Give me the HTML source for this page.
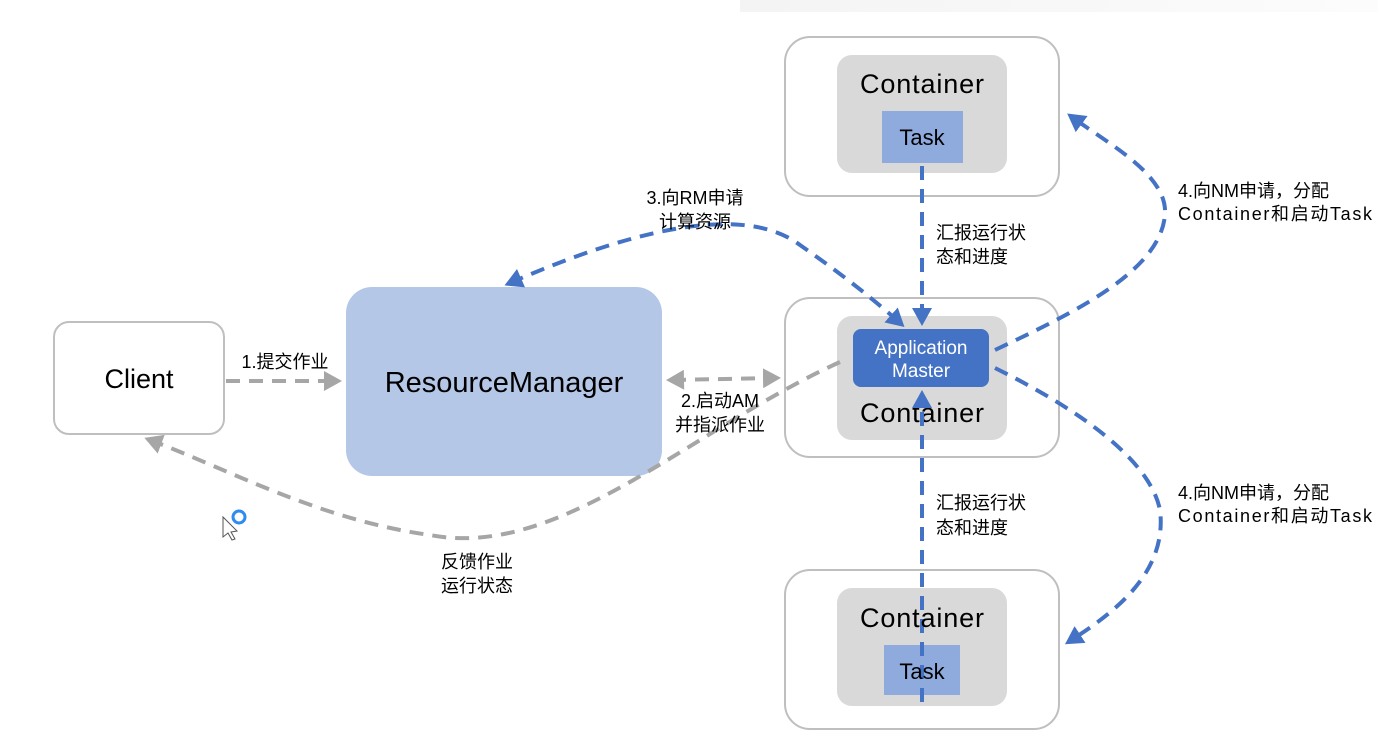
<!DOCTYPE html>
<html><head><meta charset="utf-8"><style>
html,body{margin:0;padding:0;background:#fff;}
svg{display:block;font-family:"Liberation Sans","Noto Sans CJK SC",sans-serif;}
</style></head><body>
<svg width="1378" height="737" viewBox="0 0 1378 737" xmlns="http://www.w3.org/2000/svg">
<defs>
<marker id="ab" markerWidth="5" markerHeight="5" refX="3" refY="2.5" orient="auto" markerUnits="strokeWidth"><path d="M0,0 L4.5,2.5 L0,5 z" fill="#4472c4"/></marker>
<marker id="abs" markerWidth="5" markerHeight="5" refX="1.5" refY="2.5" orient="auto" markerUnits="strokeWidth"><path d="M4.5,0 L0,2.5 L4.5,5 z" fill="#4472c4"/></marker>
<marker id="ag" markerWidth="5" markerHeight="5" refX="3" refY="2.5" orient="auto" markerUnits="strokeWidth"><path d="M0,0 L4.5,2.5 L0,5 z" fill="#a6a6a6"/></marker>
<marker id="ags" markerWidth="5" markerHeight="5" refX="1.5" refY="2.5" orient="auto" markerUnits="strokeWidth"><path d="M4.5,0 L0,2.5 L4.5,5 z" fill="#a6a6a6"/></marker>
<linearGradient id="tg" x1="0" x2="1"><stop offset="0" stop-color="#f4f4f4"/><stop offset="1" stop-color="#fcfcfc"/></linearGradient>
</defs>
<rect x="740" y="0" width="638" height="12" fill="url(#tg)"/>
<rect x="54" y="322" width="170" height="112" rx="15" fill="#fff" stroke="#bfbfbf" stroke-width="2"/>
<text x="139" y="388" font-size="27" text-anchor="middle">Client</text>
<rect x="346" y="287" width="316" height="189" rx="26" fill="#b4c7e7"/>
<text x="504" y="392" font-size="29" text-anchor="middle">ResourceManager</text>
<rect x="785" y="37" width="274" height="159" rx="25" fill="#fff" stroke="#bfbfbf" stroke-width="2"/>
<rect x="837" y="55" width="170" height="118" rx="15" fill="#d9d9d9"/>
<text x="922" y="93" font-size="27" text-anchor="middle" textLength="124">Container</text>
<rect x="882" y="111" width="81" height="52" fill="#8faadc"/>
<text x="922" y="145" font-size="22" text-anchor="middle">Task</text>
<rect x="785" y="298" width="274" height="159" rx="25" fill="#fff" stroke="#bfbfbf" stroke-width="2"/>
<rect x="837" y="316" width="170" height="124" rx="15" fill="#d9d9d9"/>
<text x="922" y="422" font-size="27" text-anchor="middle" textLength="124">Container</text>
<rect x="785" y="570" width="274" height="159" rx="25" fill="#fff" stroke="#bfbfbf" stroke-width="2"/>
<rect x="837" y="588" width="170" height="118" rx="15" fill="#d9d9d9"/>
<rect x="884" y="645" width="76" height="50" fill="#8faadc"/>
<g fill="none" stroke="#a6a6a6" stroke-width="4" stroke-dasharray="14,9">
<path d="M226 381 L336 381" marker-end="url(#ag)"/>
<path d="M672 380 L775 378" marker-end="url(#ag)" marker-start="url(#ags)"/>
<path d="M840 362 C690 430, 560 560, 430 535 C320 520, 230 470, 150 440" marker-end="url(#ag)"/>
</g>
<rect x="853" y="329" width="136" height="58" rx="8" fill="#4472c4"/>
<text x="921" y="354" font-size="19" fill="#fff" text-anchor="middle">Application</text>
<text x="921" y="377" font-size="19" fill="#fff" text-anchor="middle">Master</text>
<g fill="none" stroke="#4472c4" stroke-width="4" stroke-dasharray="14,9">
<path d="M510 283 C620 235, 740 200, 800 245 C850 280, 880 305, 900 323" marker-end="url(#ab)" marker-start="url(#abs)"/>
<path d="M922 166 L922 320" marker-end="url(#ab)"/>
<path d="M922 702 L922 396" marker-end="url(#ab)"/>
<path d="M995 350 C1080 310, 1160 270, 1165 215 C1168 175, 1110 145, 1072 117" marker-end="url(#ab)"/>
<path d="M995 368 C1080 410, 1150 460, 1160 510 C1168 575, 1110 615, 1070 641" marker-end="url(#ab)"/>
</g>
<text x="922" y="627" font-size="27" text-anchor="middle" textLength="124">Container</text>
<text x="922" y="679" font-size="22" text-anchor="middle">Task</text>
<g font-size="18" fill="#000">
<text x="285" y="368" text-anchor="middle">1.提交作业</text>
<text x="720" y="407" text-anchor="middle">2.启动AM</text>
<text x="720" y="431" text-anchor="middle">并指派作业</text>
<text x="695" y="204" text-anchor="middle">3.向RM申请</text>
<text x="695" y="228" text-anchor="middle">计算资源</text>
<text x="936" y="239">汇报运行状</text>
<text x="936" y="263">态和进度</text>
<text x="936" y="509">汇报运行状</text>
<text x="936" y="534">态和进度</text>
<text x="1178" y="197">4.向NM申请，分配</text>
<text x="1178" y="220" textLength="194">Container和启动Task</text>
<text x="1178" y="499">4.向NM申请，分配</text>
<text x="1178" y="522" textLength="194">Container和启动Task</text>
<text x="477" y="568" text-anchor="middle">反馈作业</text>
<text x="477" y="592" text-anchor="middle">运行状态</text>
</g>
<circle cx="239" cy="517" r="6" fill="none" stroke="#2e8bef" stroke-width="3"/>
<path d="M223 517 L223 537 L228 533 L232 540 L235 539 L231 532 L237 531 z" fill="#fff" stroke="#555" stroke-width="1"/>
</svg>
</body></html>
